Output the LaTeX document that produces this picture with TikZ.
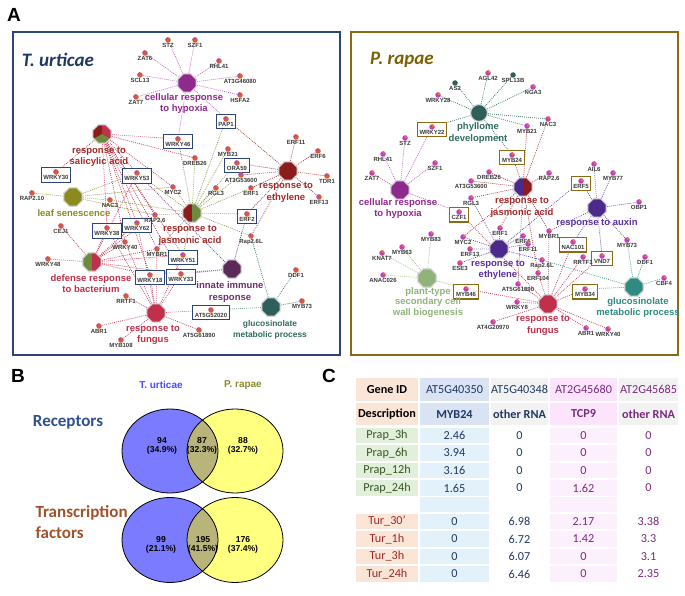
\documentclass[tikz,border=0pt]{standalone}
\usepackage{fontspec}
\setmainfont{Liberation Sans}
\newfontfamily\calfont{Carlito}
\usepackage{tikz}
\usetikzlibrary{shapes.geometric, fit}

\definecolor{tnavy}{HTML}{2B4577}
\definecolor{ttitle}{HTML}{1F3864}
\definecolor{pgold}{HTML}{8B6A14}
\definecolor{ptitle}{HTML}{7F6000}
\definecolor{hypc}{HTML}{8E2A8E}
\definecolor{ethc}{HTML}{8B1C1C}
\definecolor{ethl}{HTML}{A52A2A}
\definecolor{jagr}{HTML}{6E8B3D}
\definecolor{sarc}{HTML}{C0304A}
\definecolor{leafc}{HTML}{8A8A1E}
\definecolor{innc}{HTML}{5A2A5A}
\definecolor{innl}{HTML}{6B2F6B}
\definecolor{gluc}{HTML}{2F5F5A}
\definecolor{glul}{HTML}{2F6B62}
\definecolor{indc}{HTML}{4B2A8B}
\definecolor{indl}{HTML}{5B2FA0}
\definecolor{cwc}{HTML}{8FB37A}
\definecolor{glutwo}{HTML}{2F8A82}
\definecolor{ehyp}{HTML}{C060C0}
\definecolor{ered}{HTML}{A83A3A}
\definecolor{egrn}{HTML}{86A050}
\definecolor{ecrm}{HTML}{C8405E}
\definecolor{eleaf}{HTML}{9A9A30}
\definecolor{einn}{HTML}{7A3A8A}
\definecolor{eglu}{HTML}{3A7A72}
\definecolor{eind}{HTML}{6A48B0}
\definecolor{ecw}{HTML}{9ABB80}
\definecolor{eglutwo}{HTML}{3A9A90}
\definecolor{tdotc}{HTML}{E05A30}
\definecolor{tdotp}{HTML}{A050C0}
\definecolor{pdotc}{HTML}{C040C0}
\definecolor{pdoto}{HTML}{E87030}
\definecolor{glabc}{HTML}{3A3A3A}
\definecolor{vblue}{HTML}{7B7BFF}
\definecolor{vyel}{HTML}{FFFF80}
\definecolor{volv}{HTML}{B8B47A}
\definecolor{vtblue}{HTML}{4A4AFF}
\definecolor{vpolive}{HTML}{8B8B2A}
\definecolor{recc}{HTML}{2F4F8F}
\definecolor{tfc}{HTML}{A0522D}
\definecolor{peach}{HTML}{FBE5D6}
\definecolor{lgreen}{HTML}{E2EFDA}
\definecolor{hblue}{HTML}{DAE3F3}
\definecolor{dblue}{HTML}{E3F1FB}
\definecolor{hgray}{HTML}{F2F2F2}
\definecolor{hpink}{HTML}{FCE4FC}
\definecolor{dpink}{HTML}{FDF0FD}
\definecolor{txgreen}{HTML}{375623}
\definecolor{txred}{HTML}{9C2A2A}
\definecolor{txnavy}{HTML}{1F3864}
\definecolor{txpurp}{HTML}{7A2A80}

\newcommand\genefont{\fontsize{6}{6.5}\selectfont\bfseries}
\newcommand\hubfont{\fontsize{9.5}{11.5}\selectfont\bfseries}
\newcommand\tabfont{\calfont\fontsize{12.2}{14}\selectfont}

\pgfdeclarelayer{bg}
\pgfdeclarelayer{edges}
\pgfdeclarelayer{boxes}
\pgfsetlayers{bg,edges,boxes,main}

\tikzset{
  glab/.style={font=\genefont, text=glabc, inner sep=0.4pt},
  tdot/.style={circle, inner sep=0pt, minimum size=5.5pt, fill=tdotc,
    path picture={\fill[tdotp] (path picture bounding box.north west) rectangle (path picture bounding box.center);}},
  pdot/.style={circle, inner sep=0pt, minimum size=5.5pt, fill=pdotc,
    path picture={\fill[pdoto] (path picture bounding box.north east) rectangle (path picture bounding box.center);}},
  tealdot/.style={circle, inner sep=0pt, minimum size=5.5pt, fill=gluc},
  hub/.style={regular polygon, regular polygon sides=8, inner sep=0pt, minimum size=20pt, draw=gray!30, line width=1.2pt},
  hublab/.style={font=\hubfont, align=center, inner sep=0pt},
  lnk/.style={dash pattern=on 0.9pt off 1.1pt, line width=0.7pt},
  tbox/.style={draw=tnavy, line width=1pt, fill=white, fill opacity=0.85, inner sep=1.6pt},
  pbox/.style={draw=pgold, line width=1.1pt, fill=white, fill opacity=0.85, inner sep=1.6pt},
  cell/.style={inner sep=0pt, minimum height=15.5pt, font=\tabfont},
  hrow/.style={minimum height=22.5pt},
  cA/.style={minimum width=62pt}, cB/.style={minimum width=69pt},
  cC/.style={minimum width=57pt}, cD/.style={minimum width=67pt},
  cE/.style={minimum width=59pt},
}

\begin{document}
\begin{tikzpicture}[x=1pt, y=-1pt]
\begin{pgfonlayer}{bg}
\fill[white] (0,0) rectangle (685,596);
\end{pgfonlayer}
\useasboundingbox (0,0) rectangle (685,596);

\node[font=\fontsize{19}{19}\selectfont\bfseries] (letA) at (14,15) {A};
\node[font=\fontsize{19}{19}\selectfont\bfseries] (letB) at (18,376) {B};
\node[font=\fontsize{19}{19}\selectfont\bfseries] (letC) at (329,376) {C};

% panel A frames
\draw[tnavy, line width=2pt] (13,32) rectangle (340,355);
\draw[pgold, line width=2.2pt] (351,32) rectangle (678,355);
\node[font=\calfont\fontsize{19}{19}\selectfont\bfseries\itshape, text=ttitle] (ttl) at (58,60) {T. urticae};
\node[font=\calfont\fontsize{19}{19}\selectfont\bfseries\itshape, text=ptitle] (ptl) at (402,60) {P. rapae};

% T. urticae hubs
\node[hub, fill=hypc] (tHyp) at (187,83) {};
\node[hub, fill=ethc, path picture={
  \fill[sarc] (path picture bounding box.center) -- +(90:14pt) -- +(30:20pt) -- +(-30:14pt) -- cycle;
  \fill[jagr] (path picture bounding box.center) -- +(-30:14pt) -- +(-90:20pt) -- +(210:14pt) -- cycle;}] (tSal) at (102,134) {};
\node[hub, fill=ethc] (tEth) at (288,171) {};
\node[hub, fill=ethc, path picture={\fill[jagr] (path picture bounding box.north) rectangle (path picture bounding box.south east);}] (tJA) at (192,213) {};
\node[hub, fill=leafc] (tLeaf) at (73,197) {};
\node[hub, fill=jagr, path picture={\fill[sarc] (path picture bounding box.north) rectangle (path picture bounding box.south east);}] (tDef) at (92,262) {};
\node[hub, fill=innc] (tInn) at (232,269) {};
\node[hub, fill=sarc] (tFun) at (156,313) {};
\node[hub, fill=gluc] (tGlu) at (271,307) {};

\node[hublab, text=hypc] (tHypL) at (184,103.5) {cellular response\\to hypoxia};
\node[hublab, text=ethl] (tSalL) at (99,157) {response to\\salicylic acid};
\node[hublab, text=ethl] (tEthL) at (286,192.5) {response to\\ethylene};
\node[hublab, text=ethl] (tJAL) at (190,235.5) {response to\\jasmonic acid};
\node[hublab, text=leafc] (tLeafL) at (74,213) {leaf senescence};
\node[hublab, text=sarc] (tDefL) at (91,283.5) {defense response\\to bacterium};
\node[hublab, text=innl] (tInnL) at (230,292) {innate immune\\response};
\node[hublab, text=sarc] (tFunL) at (153,335) {response to\\fungus};
\node[hublab, text=glul, font=\fontsize{8.4}{11.5}\selectfont\bfseries] (tGluL) at (270,330) {glucosinolate\\metabolic process};

% T. urticae genes
\node[tdot, label={[glab]below:STZ}] (tSTZ) at (168,40) {};
\node[tdot, label={[glab]below:SZF1}] (tSZF1) at (195,40) {};
\node[tdot, label={[glab]below:ZAT6}] (tZAT6) at (145,53) {};
\node[tdot, label={[glab]below:RHL41}] (tRHL41) at (219,61) {};
\node[tdot, label={[glab]below:SCL13}] (tSCL13) at (140,75) {};
\node[tdot, label={[glab]below:AT3G46080}] (tAT3G46080) at (240,76) {};
\node[tdot, label={[glab]below:ZAT7}] (tZAT7) at (136,97) {};
\node[tdot, label={[glab]below:HSFA2}] (tHSFA2) at (240,95) {};
\node[tdot, label={[glab, name=tPAP1-l]below:PAP1}] (tPAP1) at (226,119) {};
\node[tdot, label={[glab, name=tWRKY46-l]below:WRKY46}] (tWRKY46) at (178,139) {};
\node[tdot, label={[glab, name=tORA59-l]below:ORA59}] (tORA59) at (237,163) {};
\node[tdot, label={[glab, name=tERF2-l]below:ERF2}] (tERF2) at (247,214) {};
\node[tdot, label={[glab]below:MYB21}] (tMYB21) at (228,149) {};
\node[tdot, label={[glab]below:DREB26}] (tDREB26) at (195,158) {};
\node[tdot, label={[glab]below:AT3G53600}] (tAT3G53600) at (241,175) {};
\node[tdot, label={[glab]below:RGL3}] (tRGL3) at (216,188) {};
\node[tdot, label={[glab]below:ERF1}] (tERF1) at (251,188) {};
\node[tdot, label={[glab]below:MYC2}] (tMYC2) at (173,187) {};
\node[tdot, label={[glab]below:ERF11}] (tERF11) at (296,137) {};
\node[tdot, label={[glab]below:ERF6}] (tERF6) at (318,151) {};
\node[tdot, label={[glab]below:TDR1}] (tTDR1) at (327,176) {};
\node[tdot, label={[glab]below:ERF13}] (tERF13) at (319,197) {};
\node[tdot, label={[glab, name=tWRKY30-l]below:WRKY30}] (tWRKY30) at (56,172) {};
\node[tdot, label={[glab, name=tWRKY53-l]below:WRKY53}] (tWRKY53) at (137,173) {};
\node[tdot, label={[glab]below:RAP2.10}] (tRAPten) at (32,193) {};
\node[tdot, label={[glab]below:NAC3}] (tNAC3) at (110,200) {};
\node[tdot, label={[glab]below:RAP2.6}] (tRAPsix) at (155,215) {};
\node[tdot, label={[glab]below:CEJ1}] (tCEJ1) at (61,226) {};
\node[tdot, label={[glab, name=tWRKY38-l]below:WRKY38}] (tWRKY38) at (107,228) {};
\node[tdot, label={[glab, name=tWRKY62-l]below:WRKY62}] (tWRKY62) at (137,223) {};
\node[tdot, label={[glab]below:WRKY40}] (tWRKY40) at (125,242) {};
\node[tdot, label={[glab]below:WRKY48}] (tWRKY48) at (48,259) {};
\node[tdot, label={[glab]below:MYBR1}] (tMYBR1) at (157,249) {};
\node[tdot, label={[glab, name=tWRKY51-l]below:WRKY51}] (tWRKY51) at (183,255) {};
\node[tdot, label={[glab, name=tWRKY18-l]below:WRKY18}] (tWRKY18) at (150,275) {};
\node[tdot, label={[glab, name=tWRKY33-l]below:WRKY33}] (tWRKY33) at (181,274) {};
\node[tdot, label={[glab]below:Rap2.6L}] (tRapL) at (251,236) {};
\node[tdot, label={[glab]below:RRTF1}] (tRRTF1) at (126,296) {};
\node[tdot, label={[glab]below:ABR1}] (tABR1) at (99,326) {};
\node[tdot, label={[glab]below:MYB108}] (tMYB108) at (121,340) {};
\node[tdot, label={[glab]below:AT5G61890}] (tAT5G61890) at (199,330) {};
\node[tdot, label={[glab, name=tAT5G52020-l]below:AT5G52020}] (tAT5G52020) at (211,310) {};
\node[tdot, label={[glab]below:DDF1}] (tDDF1) at (296,270) {};
\node[tdot, label={[glab]below:MYB73}] (tMYB73) at (302,301) {};

% P. rapae hubs
\node[circle, inner sep=0pt, minimum size=17pt, draw=gray!30, line width=1.2pt, fill=gluc] (pPhy) at (479,113) {};
\node[hub, fill=hypc] (pHyp) at (400,190) {};
\node[hub, fill=indc, path picture={\fill[ethc] (path picture bounding box.north) rectangle (path picture bounding box.south east);}] (pJA) at (523,187) {};
\node[hub, fill=indc] (pEth) at (499,249) {};
\node[hub, fill=indc] (pAux) at (597,208) {};
\node[hub, fill=cwc] (pCW) at (427,278) {};
\node[hub, fill=sarc] (pFun) at (548,304) {};
\node[hub, fill=glutwo] (pGlu) at (634,287) {};

\node[hublab, text=glul] (pPhyL) at (478,133) {phyllome\\development};
\node[hublab, text=hypc] (pHypL) at (398,208.5) {cellular response\\to hypoxia};
\node[hublab, text=ethl] (pJAL) at (522,207.5) {response to\\jasmonic acid};
\node[hublab, text=indl] (pEthL) at (498,270) {response to\\ethylene};
\node[hublab, text=indl] (pAuxL) at (597,223) {response to auxin};
\node[hublab, text=cwc, font=\fontsize{9.5}{10.5}\selectfont\bfseries] (pCWL) at (428,302.5) {plant-type\\secondary cell\\wall biogenesis};
\node[hublab, text=sarc] (pFunL) at (543,325.5) {response to\\fungus};
\node[hublab, text=glutwo] (pGluL) at (638,307.5) {glucosinolate\\metabolic process};

% P. rapae genes
\node[pdot, label={[glab]below:AGL42}] (pAGL42) at (488,73) {};
\node[tealdot, label={[glab]below:SPL13B}] (pSPL13B) at (513,75) {};
\node[tealdot, label={[glab]below:AS2}] (pAS2) at (455,83) {};
\node[pdot, label={[glab]below:NGA3}] (pNGA3) at (533,87) {};
\node[pdot, label={[glab]below:WRKY28}] (pWRKY28) at (438,95) {};
\node[pdot, label={[glab]below:NAC3}] (pNAC3) at (548,119) {};
\node[pdot, label={[glab]below:MYB21}] (pMYB21) at (527,126) {};
\node[pdot, label={[glab, name=pWRKY22-l]below:WRKY22}] (pWRKY22) at (432,127) {};
\node[pdot, label={[glab, name=pMYB24-l]below:MYB24}] (pMYB24) at (512,155) {};
\node[pdot, label={[glab]below:STZ}] (pSTZ) at (405,138) {};
\node[pdot, label={[glab]below:RHL41}] (pRHL41) at (383,154) {};
\node[pdot, label={[glab]below:SZF1}] (pSZF1) at (435,163) {};
\node[pdot, label={[glab]below:ZAT7}] (pZAT7) at (372,173) {};
\node[pdot, label={[glab, name=pCZF1-l]below:CZF1}] (pCZF1) at (459,212) {};
\node[pdot, label={[glab]below:DREB26}] (pDREB26) at (489,172) {};
\node[pdot, label={[glab]below:AT3G53600}] (pAT3G53600) at (471,181) {};
\node[pdot, label={[glab]below:RGL3}] (pRGL3) at (471,198) {};
\node[pdot, label={[glab]below:RAP2.6}] (pRAPsix) at (549,173) {};
\node[pdot, label={[glab]below:MYC2}] (pMYC2) at (463,237) {};
\node[pdot, label={[glab]below:ERF1}] (pERF1) at (500,228) {};
\node[pdot, label={[glab]below:ERF6}] (pERF6) at (523,236) {};
\node[pdot, label={[glab]below:ERF11}] (pERF11) at (528,244) {};
\node[pdot, label={[glab]below:ERF13}] (pERF13) at (470,249) {};
\node[pdot, label={[glab]below:ESE3}] (pESE3) at (460,263) {};
\node[pdot, label={[glab]below:Rap2.6L}] (pRapL) at (542,260) {};
\node[pdot, label={[glab]below:ERF104}] (pERF104) at (538,273) {};
\node[pdot, label={[glab]below:AIL6}] (pAIL6) at (594,164) {};
\node[pdot, label={[glab]below:MYB77}] (pMYB77) at (613,173) {};
\node[pdot, label={[glab]below:OBP1}] (pOBP1) at (639,202) {};
\node[pdot, label={[glab]below:MYBR1}] (pMYBR1) at (549,231) {};
\node[pdot, label={[glab]below:MYB73}] (pMYB73) at (627,240) {};
\node[pdot, label={[glab, name=pERF5-l]below:ERF5}] (pERF5) at (581,181) {};
\node[pdot, label={[glab, name=pNAC101-l]below:NAC101}] (pNAC101) at (573,242) {};
\node[pdot, label={[glab, name=pVND7-l]below:VND7}] (pVND7) at (602,256) {};
\node[pdot, label={[glab]below:RRTF1}] (pRRTF1) at (583,257) {};
\node[pdot, label={[glab]below:MYB83}] (pMYB83) at (431,234) {};
\node[pdot, label={[glab]below:MYB63}] (pMYB63) at (402,247) {};
\node[pdot, label={[glab]below:KNAT7}] (pKNAT7) at (382,253) {};
\node[pdot, label={[glab]below:ANAC026}] (pANAC026) at (383,275) {};
\node[pdot, label={[glab, name=pMYB46-l]below:MYB46}] (pMYB46) at (466,289) {};
\node[pdot, label={[glab]below:AT5G61890}] (pAT5G61890) at (518,284) {};
\node[pdot, label={[glab]below:WRKY8}] (pWRKY8) at (517,302) {};
\node[pdot, label={[glab]below:AT4G20970}] (pAT4G20970) at (493,322) {};
\node[pdot, label={[glab]below:ABR1}] (pABR1) at (586,328) {};
\node[pdot, label={[glab]below:WRKY40}] (pWRKY40) at (608,329) {};
\node[pdot, label={[glab, name=pMYB34-l]below:MYB34}] (pMYB34) at (585,289) {};
\node[pdot, label={[glab]below:DDF1}] (pDDF1) at (645,257) {};
\node[pdot, label={[glab]below:CBF4}] (pCBF4) at (664,278) {};

\begin{pgfonlayer}{boxes}
\node[tbox, fit=(tPAP1)(tPAP1-l)] (tPAP1-b) {};
\node[tbox, fit=(tWRKY46)(tWRKY46-l)] (tWRKY46-b) {};
\node[tbox, fit=(tORA59)(tORA59-l)] (tORA59-b) {};
\node[tbox, fit=(tERF2)(tERF2-l)] (tERF2-b) {};
\node[tbox, fit=(tWRKY30)(tWRKY30-l)] (tWRKY30-b) {};
\node[tbox, fit=(tWRKY53)(tWRKY53-l)] (tWRKY53-b) {};
\node[tbox, fit=(tWRKY38)(tWRKY38-l)] (tWRKY38-b) {};
\node[tbox, fit=(tWRKY62)(tWRKY62-l)] (tWRKY62-b) {};
\node[tbox, fit=(tWRKY51)(tWRKY51-l)] (tWRKY51-b) {};
\node[tbox, fit=(tWRKY18)(tWRKY18-l)] (tWRKY18-b) {};
\node[tbox, fit=(tWRKY33)(tWRKY33-l)] (tWRKY33-b) {};
\node[tbox, fit=(tAT5G52020)(tAT5G52020-l)] (tAT5G52020-b) {};
\node[pbox, fit=(pWRKY22)(pWRKY22-l)] (pWRKY22-b) {};
\node[pbox, fit=(pMYB24)(pMYB24-l)] (pMYB24-b) {};
\node[pbox, fit=(pCZF1)(pCZF1-l)] (pCZF1-b) {};
\node[pbox, fit=(pERF5)(pERF5-l)] (pERF5-b) {};
\node[pbox, fit=(pNAC101)(pNAC101-l)] (pNAC101-b) {};
\node[pbox, fit=(pVND7)(pVND7-l)] (pVND7-b) {};
\node[pbox, fit=(pMYB46)(pMYB46-l)] (pMYB46-b) {};
\node[pbox, fit=(pMYB34)(pMYB34-l)] (pMYB34-b) {};
\end{pgfonlayer}

\begin{pgfonlayer}{edges}
\draw[lnk, ehyp] (tHyp) -- (tSTZ) (tHyp) -- (tSZF1) (tHyp) -- (tZAT6) (tHyp) -- (tRHL41) (tHyp) -- (tSCL13)
  (tHyp) -- (tAT3G46080) (tHyp) -- (tZAT7) (tHyp) -- (tHSFA2) (tHyp) -- (tWRKY46) (tHyp) -- (tPAP1);
\draw[lnk, ered] (tEth) -- (tERF11) (tEth) -- (tERF6) (tEth) -- (tTDR1) (tEth) -- (tERF13) (tEth) -- (tPAP1)
  (tEth) -- (tORA59) (tEth) -- (tAT3G53600) (tEth) -- (tERF1) (tEth) -- (tERF2) (tEth) -- (tRapL);
\draw[lnk, egrn] (tJA) -- (tPAP1) (tJA) -- (tMYB21) (tJA) -- (tDREB26) (tJA) -- (tORA59) (tJA) -- (tAT3G53600)
  (tJA) -- (tRGL3) (tJA) -- (tERF1) (tJA) -- (tMYC2) (tJA) -- (tERF2) (tJA) -- (tRapL) (tJA) -- (tWRKY51)
  (tJA) -- (tMYBR1) (tJA) -- (tRAPsix) (tJA) -- (tWRKY53) (tJA) -- (tNAC3) (tJA) -- (tWRKY46);
\draw[lnk, ecrm] (tSal) -- (tWRKY46) (tSal) -- (tDREB26) (tSal) -- (tWRKY30) (tSal) -- (tWRKY53) (tSal) -- (tWRKY38)
  (tSal) -- (tWRKY62) (tSal) -- (tWRKY40) (tSal) -- (tWRKY18) (tSal) -- (tWRKY33) (tSal) -- (tWRKY51)
  (tSal) -- (tMYC2) (tSal) -- (tRAPsix) (tSal) -- (tMYBR1);
\draw[lnk, eleaf] (tLeaf) -- (tRAPten) (tLeaf) -- (tNAC3) (tLeaf) -- (tWRKY53) (tLeaf) -- (tMYC2) (tLeaf) -- (tRAPsix);
\draw[lnk, ecrm] (tDef) -- (tCEJ1) (tDef) -- (tWRKY48) (tDef) -- (tWRKY38) (tDef) -- (tWRKY62) (tDef) -- (tWRKY40)
  (tDef) -- (tWRKY53) (tDef) -- (tMYBR1) (tDef) -- (tWRKY51) (tDef) -- (tWRKY18) (tDef) -- (tWRKY33) (tDef) -- (tRAPsix);
\draw[lnk, einn] (tInn) -- (tWRKY33) (tInn) -- (tWRKY18) (tInn) -- (tWRKY53) (tInn) -- (tERF2);
\draw[lnk, ecrm] (tFun) -- (tRRTF1) (tFun) -- (tABR1) (tFun) -- (tMYB108) (tFun) -- (tAT5G61890) (tFun) -- (tAT5G52020)
  (tFun) -- (tWRKY18) (tFun) -- (tWRKY33) (tFun) -- (tWRKY51) (tFun) -- (tMYBR1) (tFun) -- (tWRKY40)
  (tFun) -- (tWRKY38) (tFun) -- (tWRKY62);
\draw[lnk, eglu] (tGlu) -- (tDDF1) (tGlu) -- (tMYB73) (tGlu) -- (tAT5G52020) (tGlu) -- (tRapL);

\draw[lnk, eglu] (pPhy) -- (pAGL42) (pPhy) -- (pSPL13B) (pPhy) -- (pAS2) (pPhy) -- (pNGA3) (pPhy) -- (pWRKY28)
  (pPhy) -- (pNAC3) (pPhy) -- (pMYB21) (pPhy) -- (pWRKY22) (pPhy) -- (pMYB24);
\draw[lnk, ehyp] (pHyp) -- (pSTZ) (pHyp) -- (pRHL41) (pHyp) -- (pSZF1) (pHyp) -- (pZAT7) (pHyp) -- (pWRKY22) (pHyp) -- (pCZF1);
\draw[lnk, ered] (pJA) -- (pMYB24) (pJA) -- (pMYB21) (pJA) -- (pNAC3) (pJA) -- (pDREB26) (pJA) -- (pAT3G53600)
  (pJA) -- (pRGL3) (pJA) -- (pRAPsix) (pJA) -- (pMYC2) (pJA) -- (pERF1) (pJA) -- (pMYBR1) (pJA) -- (pERF104)
  (pJA) -- (pAT5G61890);
\draw[lnk, eind] (pEth) -- (pERF1) (pEth) -- (pERF6) (pEth) -- (pERF11) (pEth) -- (pERF13) (pEth) -- (pESE3)
  (pEth) -- (pRGL3) (pEth) -- (pRapL) (pEth) -- (pERF5) (pEth) -- (pMYC2);
\draw[lnk, eind] (pAux) -- (pAIL6) (pAux) -- (pMYB77) (pAux) -- (pOBP1) (pAux) -- (pMYBR1) (pAux) -- (pMYB73)
  (pAux) -- (pERF5) (pAux) -- (pNAC101) (pAux) -- (pVND7);
\draw[lnk, ecw] (pCW) -- (pMYB83) (pCW) -- (pMYB63) (pCW) -- (pKNAT7) (pCW) -- (pANAC026) (pCW) -- (pMYB46);
\draw[lnk, ecrm] (pFun) -- (pAT5G61890) (pFun) -- (pWRKY8) (pFun) -- (pAT4G20970) (pFun) -- (pABR1) (pFun) -- (pWRKY40)
  (pFun) -- (pMYB34) (pFun) -- (pMYB46) (pFun) -- (pERF104) (pFun) -- (pNAC101) (pFun) -- (pVND7)
  (pFun) -- (pRRTF1) (pFun) -- (pMYBR1) (pFun) -- (pCZF1);
\draw[lnk, eglutwo] (pGlu) -- (pDDF1) (pGlu) -- (pCBF4) (pGlu) -- (pMYB34) (pGlu) -- (pMYB73) (pGlu) -- (pRapL);
\end{pgfonlayer}

% panel B
\node[font=\fontsize{10}{10}\selectfont\bfseries, text=vtblue] (vTu) at (161,385) {T. urticae};
\node[font=\fontsize{10}{10}\selectfont\bfseries, text=vpolive] (vPr) at (243,385) {P. rapae};
\node[font=\calfont\fontsize{17}{20}\selectfont\bfseries, text=recc] (vRec) at (68,422) {Receptors};
\node[font=\calfont\fontsize{17}{21}\selectfont\bfseries, text=tfc, align=left, anchor=west] (vTF) at (32,522.5) {Transcription\\factors};

\fill[vblue] (170,451) ellipse [x radius=48pt, y radius=42pt];
\fill[vyel] (235,451) ellipse [x radius=48pt, y radius=42pt];
\begin{scope}
\clip (170,451) ellipse [x radius=48pt, y radius=42pt];
\fill[volv] (235,451) ellipse [x radius=48pt, y radius=42pt];
\end{scope}
\draw[line width=0.8pt] (170,451) ellipse [x radius=48pt, y radius=42pt];
\draw[line width=0.8pt] (235,451) ellipse [x radius=48pt, y radius=42pt];

\fill[vblue] (170,540) ellipse [x radius=48pt, y radius=42.5pt];
\fill[vyel] (235,540) ellipse [x radius=48pt, y radius=42.5pt];
\begin{scope}
\clip (170,540) ellipse [x radius=48pt, y radius=42.5pt];
\fill[volv] (235,540) ellipse [x radius=48pt, y radius=42.5pt];
\end{scope}
\draw[line width=0.8pt] (170,540) ellipse [x radius=48pt, y radius=42.5pt];
\draw[line width=0.8pt] (235,540) ellipse [x radius=48pt, y radius=42.5pt];

\node[font=\fontsize{8.6}{9}\selectfont\bfseries, align=center] (vA1) at (162,445.5) {94\\(34.9\%)};
\node[font=\fontsize{8.6}{9}\selectfont\bfseries, align=center] (vA2) at (202,445.5) {87\\(32.3\%)};
\node[font=\fontsize{8.6}{9}\selectfont\bfseries, align=center] (vA3) at (243,445.5) {88\\(32.7\%)};
\node[font=\fontsize{8.6}{9}\selectfont\bfseries, align=center] (vB1) at (161,544.5) {99\\(21.1\%)};
\node[font=\fontsize{8.6}{9}\selectfont\bfseries, align=center] (vB2) at (203,544.5) {195\\(41.5\%)};
\node[font=\fontsize{8.6}{9}\selectfont\bfseries, align=center] (vB3) at (243,544.5) {176\\(37.4\%)};

% panel C
\node[cell, hrow, cA, fill=peach, font=\tabfont\bfseries] (c11) at (387,389.5) {Gene ID};
\node[cell, hrow, cB, fill=hblue, text=txnavy] (c12) at (454.5,389.5) {AT5G40350};
\node[cell, hrow, cC, fill=hgray, text=txnavy] (c13) at (519.5,389.5) {AT5G40348};
\node[cell, hrow, cD, fill=hpink, text=txpurp] (c14) at (583.5,389.5) {AT2G45680};
\node[cell, hrow, cE, fill=hgray, text=txpurp] (c15) at (648.5,389.5) {AT2G45685};
\node[cell, hrow, cA, fill=peach, font=\tabfont\bfseries] (c21) at (387,414) {Description};
\node[cell, hrow, cB, fill=hblue, text=txnavy, font=\tabfont\bfseries] (c22) at (454.5,414) {MYB24};
\node[cell, hrow, cC, fill=hgray, text=txnavy, font=\tabfont\bfseries] (c23) at (519.5,414) {other RNA};
\node[cell, hrow, cD, fill=hpink, text=txpurp, font=\tabfont\bfseries] (c24) at (583.5,414) {TCP9};
\node[cell, hrow, cE, fill=hgray, text=txpurp, font=\tabfont\bfseries] (c25) at (648.5,414) {other RNA};

\node[cell, cA, fill=lgreen, text=txgreen] (c31) at (387,435.5) {Prap\_3h};
\node[cell, cB, fill=dblue, text=txnavy] (c32) at (454.5,435.5) {2.46};
\node[cell, cC, text=txnavy] (c33) at (519.5,435.5) {0};
\node[cell, cD, fill=dpink, text=txpurp] (c34) at (583.5,435.5) {0};
\node[cell, cE, text=txpurp] (c35) at (648.5,435.5) {0};
\node[cell, cA, fill=lgreen, text=txgreen] (c41) at (387,453) {Prap\_6h};
\node[cell, cB, fill=dblue, text=txnavy] (c42) at (454.5,453) {3.94};
\node[cell, cC, text=txnavy] (c43) at (519.5,453) {0};
\node[cell, cD, fill=dpink, text=txpurp] (c44) at (583.5,453) {0};
\node[cell, cE, text=txpurp] (c45) at (648.5,453) {0};
\node[cell, cA, fill=lgreen, text=txgreen] (c51) at (387,470.5) {Prap\_12h};
\node[cell, cB, fill=dblue, text=txnavy] (c52) at (454.5,470.5) {3.16};
\node[cell, cC, text=txnavy] (c53) at (519.5,470.5) {0};
\node[cell, cD, fill=dpink, text=txpurp] (c54) at (583.5,470.5) {0};
\node[cell, cE, text=txpurp] (c55) at (648.5,470.5) {0};
\node[cell, cA, fill=lgreen, text=txgreen] (c61) at (387,488) {Prap\_24h};
\node[cell, cB, fill=dblue, text=txnavy] (c62) at (454.5,488) {1.65};
\node[cell, cC, text=txnavy] (c63) at (519.5,488) {0};
\node[cell, cD, fill=dpink, text=txpurp] (c64) at (583.5,488) {1.62};
\node[cell, cE, text=txpurp] (c65) at (648.5,488) {0};
\node[cell, cB, fill=dblue] (c72) at (454.5,504.5) {};
\node[cell, cD, fill=dpink] (c74) at (583.5,504.5) {};
\node[cell, cA, fill=peach, text=txred] (c81) at (387,521.5) {Tur\_30’};
\node[cell, cB, fill=dblue, text=txnavy] (c82) at (454.5,521.5) {0};
\node[cell, cC, text=txnavy] (c83) at (519.5,521.5) {6.98};
\node[cell, cD, fill=dpink, text=txpurp] (c84) at (583.5,521.5) {2.17};
\node[cell, cE, text=txpurp] (c85) at (648.5,521.5) {3.38};
\node[cell, cA, fill=peach, text=txred] (c91) at (387,539) {Tur\_1h};
\node[cell, cB, fill=dblue, text=txnavy] (c92) at (454.5,539) {0};
\node[cell, cC, text=txnavy] (c93) at (519.5,539) {6.72};
\node[cell, cD, fill=dpink, text=txpurp] (c94) at (583.5,539) {1.42};
\node[cell, cE, text=txpurp] (c95) at (648.5,539) {3.3};
\node[cell, cA, fill=peach, text=txred] (c101) at (387,556.5) {Tur\_3h};
\node[cell, cB, fill=dblue, text=txnavy] (c102) at (454.5,556.5) {0};
\node[cell, cC, text=txnavy] (c103) at (519.5,556.5) {6.07};
\node[cell, cD, fill=dpink, text=txpurp] (c104) at (583.5,556.5) {0};
\node[cell, cE, text=txpurp] (c105) at (648.5,556.5) {3.1};
\node[cell, cA, fill=peach, text=txred] (c111) at (387,574) {Tur\_24h};
\node[cell, cB, fill=dblue, text=txnavy] (c112) at (454.5,574) {0};
\node[cell, cC, text=txnavy] (c113) at (519.5,574) {6.46};
\node[cell, cD, fill=dpink, text=txpurp] (c114) at (583.5,574) {0};
\node[cell, cE, text=txpurp] (c115) at (648.5,574) {2.35};
\end{tikzpicture}
\end{document}
